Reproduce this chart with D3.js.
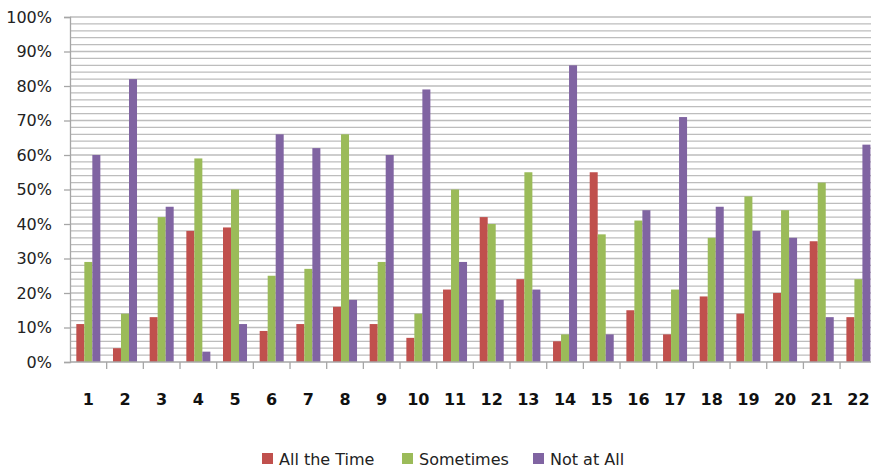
<!DOCTYPE html>
<html>
<head>
<meta charset="utf-8">
<script src="https://cdn.jsdelivr.net/npm/d3@7"></script>
<style>
  html, body { margin: 0; padding: 0; background: #fff; overflow: hidden; }
  svg { display: block; font-family: "DejaVu Sans", sans-serif; }
</style>
</head>
<body>
<div id="chart"></div>
<script>
// categories (question numbers) and series values, in percent
const categories = ["1","2","3","4","5","6","7","8","9","10","11","12","13","14","15","16","17","18","19","20","21","22"];
const seriesNames = ["All the Time", "Sometimes", "Not at All"];
const allTheTime = [11, 4, 13, 38, 39, 9, 11, 16, 11, 7, 21, 42, 24, 6, 55, 15, 8, 19, 14, 20, 35, 13];
const sometimes  = [29, 14, 42, 59, 50, 25, 27, 66, 29, 14, 50, 40, 55, 8, 37, 41, 21, 36, 48, 44, 52, 24];
const notAtAll   = [60, 82, 45, 3, 11, 66, 62, 18, 60, 79, 29, 18, 21, 86, 8, 44, 71, 45, 38, 36, 13, 63];
const yTicks = [0, 10, 20, 30, 40, 50, 60, 70, 80, 90, 100];

const colors = {
    "All the Time": "#C0504D",
    "Sometimes": "#9BBB59",
    "Not at All": "#8064A2"
};

const seriesValues = [allTheTime, sometimes, notAtAll];
const data = categories.map((c, i) => ({
    cat: c,
    values: seriesNames.map((s, k) => ({ series: s, value: seriesValues[k][i] }))
}));

const W = 871, H = 468;
const plotLeft = 70, plotTop = 17, plotBottom = 362;
const band = 36.67;
const plotRight = plotLeft + band * categories.length;

const svg = d3.select("#chart").append("svg")
    .attr("width", W)
    .attr("height", H);

const x = d3.scaleBand()
    .domain(categories)
    .range([plotLeft, plotRight])
    .padding(0);

const x1 = d3.scaleBand()
    .domain(seriesNames)
    .range([0, x.bandwidth()])
    .paddingInner(0)
    .paddingOuter(0.79);

const y = d3.scaleLinear()
    .domain([0, 100])
    .range([plotBottom, plotTop]);

// minor gridlines every 2%
svg.append("g")
    .selectAll("line")
    .data(d3.range(2, 101, 2))
    .join("line")
    .attr("x1", plotLeft)
    .attr("x2", W)
    .attr("y1", d => y(d))
    .attr("y2", d => y(d))
    .attr("stroke", "#bdbdbd")
    .attr("stroke-width", 1.3);

// y axis
const gy = svg.append("g")
    .attr("transform", `translate(${plotLeft},0)`)
    .call(d3.axisLeft(y).tickValues(yTicks).tickSize(6).tickPadding(12).tickFormat(d => `${d}%`));
gy.select(".domain").attr("stroke", "#a6a6a6").attr("stroke-width", 1.3);
gy.selectAll(".tick line").attr("stroke", "#a6a6a6").attr("stroke-width", 1.3);
gy.selectAll(".tick text")
    .style("font-family", "'DejaVu Sans', sans-serif")
    .style("font-size", "16px")
    .attr("fill", "#222");

// bars
svg.append("g")
    .selectAll("g")
    .data(data)
    .join("g")
    .attr("transform", d => `translate(${x(d.cat)},0)`)
    .selectAll("rect")
    .data(d => d.values)
    .join("rect")
    .attr("x", d => x1(d.series))
    .attr("width", x1.bandwidth())
    .attr("y", d => y(d.value))
    .attr("height", d => y(0) - y(d.value))
    .attr("fill", d => colors[d.series]);

// x axis line, boundary ticks and labels
svg.append("line")
    .attr("x1", plotLeft).attr("x2", W)
    .attr("y1", plotBottom).attr("y2", plotBottom)
    .attr("stroke", "#a6a6a6").attr("stroke-width", 1.3);

svg.append("g")
    .selectAll("line")
    .data(categories)
    .join("line")
    .attr("x1", d => x(d) + x.bandwidth())
    .attr("x2", d => x(d) + x.bandwidth())
    .attr("y1", plotBottom)
    .attr("y2", plotBottom + 7)
    .attr("stroke", "#a6a6a6")
    .attr("stroke-width", 1.3);

svg.append("g")
    .selectAll("text")
    .data(categories)
    .join("text")
    .attr("x", d => x(d) + x.bandwidth() / 2)
    .attr("y", 405)
    .attr("text-anchor", "middle")
    .style("font-size", "16px")
    .style("font-weight", "bold")
    .attr("fill", "#111")
    .text(d => d);

// legend
const legendX = [262, 402, 533];
const legend = svg.append("g")
    .selectAll("g")
    .data(seriesNames)
    .join("g")
    .attr("transform", (d, i) => `translate(${legendX[i]},453)`);

legend.append("rect")
    .attr("width", 11)
    .attr("height", 11)
    .attr("fill", d => colors[d]);

legend.append("text")
    .attr("x", 17)
    .attr("y", 12)
    .style("font-size", "16px")
    .attr("fill", "#222")
    .text(d => d);
</script>
</body>
</html>
